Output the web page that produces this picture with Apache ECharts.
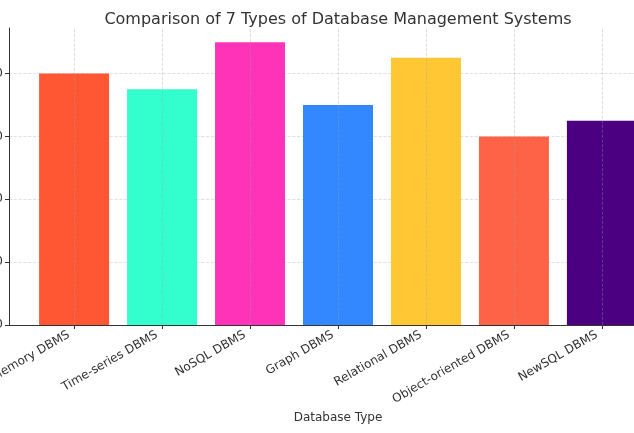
<!DOCTYPE html>
<html><head><meta charset="utf-8">
<script src="https://cdn.jsdelivr.net/npm/echarts@6/dist/echarts.min.js"></script>
<style>html,body{margin:0;padding:0;background:#fff}#c{width:634px;height:433px}</style>
</head><body><div id="c"></div>
<script>
const categories = ['In-memory DBMS','Time-series DBMS','NoSQL DBMS','Graph DBMS','Relational DBMS','Object-oriented DBMS','NewSQL DBMS'];
const values = [80, 75, 90, 70, 85, 60, 65];
const colors = ['#FF5733','#33FFCE','#FF33B8','#3388FF','#FFC733','#FF6347','#4B0082'];
const yTicks = [0, 20, 40, 60, 80];
const idx = categories.map((c,i)=>i);
const FONT = 'DejaVu Sans';
const chart = echarts.init(document.getElementById('c'), null, {renderer:'canvas'});
chart.setOption({
  animation:false,
  textStyle:{fontFamily:FONT},
  title:{text:'Comparison of 7 Types of Database Management Systems', left:333, top:7, textAlign:'center',
    textStyle:{fontFamily:FONT, fontSize:16, fontWeight:'normal', color:'#333'}},
  grid:{left:9, right:-33, top:28, bottom:108, containLabel:false, outerBoundsMode:'none'},
  xAxis:{type:'value', min:-0.74, max:6.74,
    name:'Database Type', nameLocation:'middle', nameGap:79,
    nameTextStyle:{fontFamily:FONT, fontSize:12, color:'#333'},
    axisLine:{show:true, onZero:false, lineStyle:{color:'#333', width:1}},
    axisTick:{show:true, customValues:idx, length:4, lineStyle:{color:'#333'}},
    axisLabel:{customValues:idx, rotate:30, margin:6, padding:[0,6,0,0], fontFamily:FONT, fontSize:12, color:'#333',
      formatter:(v)=>categories[Math.round(v)]},
    splitLine:{show:false}},
  yAxis:{type:'value', min:0, max:94.5, interval:20,
    axisLine:{show:true, onZero:false, lineStyle:{color:'#333', width:1}},
    axisTick:{show:true, length:4, customValues:yTicks, lineStyle:{color:'#333'}},
    axisLabel:{fontFamily:FONT, fontSize:12, color:'#333', margin:6,
      customValues:yTicks},
    splitLine:{show:true, lineStyle:{color:'#d8d8d8', type:'dashed', width:0.8}}},
  series:[
    {type:'bar', barWidth:70, z:2,
      data: values.map((v,i)=>({value:[i,v], itemStyle:{color:colors[i]}})),
      markLine:{silent:true, symbol:'none', label:{show:false}, z:3,
        lineStyle:{color:'rgba(160,160,160,0.45)', type:'dashed', width:0.8},
        data: idx.map(i=>({xAxis:i}))}}
  ]
});
</script></body></html>
